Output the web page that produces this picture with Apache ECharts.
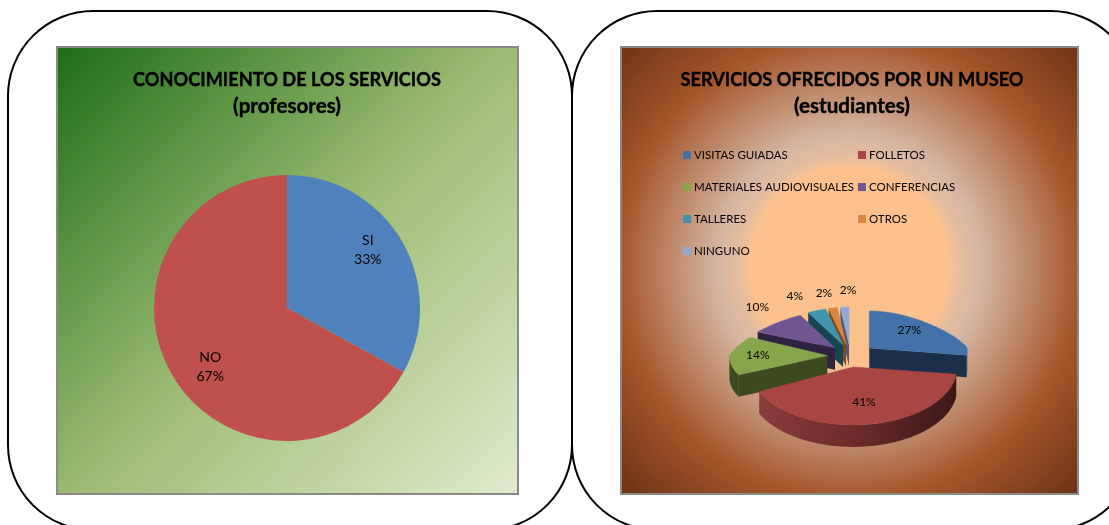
<!DOCTYPE html>
<html><head><meta charset="utf-8">
<style>html,body{margin:0;padding:0;background:#fff}#c{width:1109px;height:525px}</style>
<script src="https://cdn.jsdelivr.net/npm/echarts@6/dist/echarts.min.js"></script>
</head><body><div id="c"></div>
<script>
// ---- data ----
const leftTitle = ['CONOCIMIENTO DE LOS SERVICIOS', '(profesores)'];
const leftCategories = ['SI', 'NO'];
const leftValues = [33, 67];
const rightTitle = ['SERVICIOS OFRECIDOS POR UN MUSEO', '(estudiantes)'];
const rightCategories = ['VISITAS GUIADAS', 'FOLLETOS', 'MATERIALES AUDIOVISUALES', 'CONFERENCIAS', 'TALLERES', 'OTROS', 'NINGUNO'];
const rightValues = [27, 41, 14, 10, 4, 2, 2];

// ---- styles / layout ----
const FONT = 'Lato';
const leftColors = ['#4f81bd', '#c0504d'];
const topColors  = ['#4272a8', '#a94543', '#87a64c', '#6f5591', '#3f95ad', '#dc8540', '#93a9d4'];
const sideColors = ['#1a2f48', '#a94543', '#3d4a20', '#2d2240', '#174653', '#7d4a1c', '#4d5a75'];
const LABEL_FX = [0.68, 0.66, 0.71, 1.37, 1.85, 1.7, 0.23];
const LABEL_FY = [0.74, 0.61, 0, 1.6, 1.42, 1.4, 1.46];
const RX_SCALE = [1, 1.06, 1, 1, 1, 1, 1];
const EX_SCALE = [1, 1, 0.8, 0.71, 0.6, 0.6, 0];
const RY_BACK  = [37, 37, 43, 37, 37, 37, 37];
const RY_FRONT = [58, 58, 45, 58, 58, 58, 58];
const P = {cx: 849, cy: 355.6, rx: 98, depth: 22, ex: 27, ey: 11.5, persp: 0.3};
const total = rightValues.reduce((a, b) => a + b, 0);
const drawOrder = [6, 5, 4, 3, 2, 0, 1];

function rim(idx, ax, ay, a) {
  const s = Math.sin(a), c = Math.cos(a);
  return [ax + P.rx * RX_SCALE[idx] * s * (1 - P.persp * Math.max(0, c)), ay - (c > 0 ? RY_BACK[idx] : RY_FRONT[idx]) * c];
}
function down(p) { return [p[0], p[1] + P.depth]; }

function renderWedge(idx) {
  return function (params, api) {
    const value = api.value(0), before = api.value(1);
    const a0 = before / total * Math.PI * 2, a1 = (before + value) / total * Math.PI * 2;
    const m = (a0 + a1) / 2, sm = Math.sin(m), cm = Math.cos(m);
    const ax = P.cx + P.ex * sm * EX_SCALE[idx], ay = P.cy - P.ey * cm;
    const apex = [ax, ay];
    const arc = [];
    const N = 60;
    for (let i = 0; i <= N; i++) arc.push(rim(idx, ax, ay, a0 + (a1 - a0) * i / N));
    const children = [];
    const side = sideColors[idx];
    const isFront = a => a > Math.PI / 2 && a < Math.PI * 1.5;
    const inLeft = a => a > Math.PI && a < Math.PI * 2;
    const inRight = a => a > 0 && a < Math.PI;
    if (inLeft(a0)) {
      const r = arc[0];
      children.push({type: 'polygon', shape: {points: [apex, r, down(r), down(apex)]}, style: {fill: side}});
    }
    if (inRight(a1)) {
      const r = arc[N];
      children.push({type: 'polygon', shape: {points: [apex, r, down(r), down(apex)]}, style: {fill: side}});
    }
    const wall = [];
    for (let i = 0; i <= N; i++) if (isFront(a0 + (a1 - a0) * i / N)) wall.push(arc[i]);
    if (wall.length > 1) {
      const wallPts = wall.concat(wall.slice().reverse().map(down));
      const wallFill = idx === 1 ? new echarts.graphic.LinearGradient(0, 0, 1, 0, [
        {offset: 0, color: '#8a3d3b'}, {offset: 0.5, color: '#6a2b2a'}, {offset: 1, color: '#3c1817'}
      ]) : side;
      children.push({type: 'polygon', shape: {points: wallPts}, style: {fill: wallFill}});
    }
    children.push({type: 'polygon', shape: {points: [apex].concat(arc)},
      style: {fill: topColors[idx], stroke: topColors[idx], lineWidth: 0.5}});
    const lx = rim(idx, ax, ay, m);
    children.push({type: 'text', z2: 10, style: {
      x: ax + (lx[0] - ax) * LABEL_FX[idx], y: ay + (lx[1] - ay) * LABEL_FY[idx],
      text: value + '%', fill: '#000', font: '12px ' + FONT, align: 'center', verticalAlign: 'middle'
    }});
    return {type: 'group', children};
  };
}

let cumul = [];
rightValues.reduce((acc, v, i) => { cumul[i] = acc; return acc + v; }, 0);

const wedgeSeries = drawOrder.map(i => ({
  type: 'custom',
  name: rightCategories[i],
  coordinateSystem: 'none',
  itemStyle: {color: topColors[i]},
  renderItem: renderWedge(i),
  data: [[rightValues[i], cumul[i]]],
  silent: true,
  z: 3 + drawOrder.indexOf(i)
}));

const legendBase = {
  orient: 'vertical', icon: 'rect', itemWidth: 8, itemHeight: 8, itemGap: 20, selectedMode: false,
  textStyle: {fontFamily: FONT, fontSize: 11.5, color: '#000', padding: [0, 0, 0, -2]}
};
const titleRich = {
  a: {fontFamily: FONT, fontWeight: 'bold', fontSize: 18.2, lineHeight: 26, color: '#000', textBorderColor: '#000', textBorderWidth: 0.4},
  b: {fontFamily: FONT, fontWeight: 'bold', fontSize: 20.6, lineHeight: 26, color: '#000', textBorderColor: '#000', textBorderWidth: 0.4}
};
const titleText = t => '{a|' + t[0] + '}\n{b|' + t[1] + '}';

const chart = echarts.init(document.getElementById('c'), null, {renderer: 'canvas'});
chart.setOption({
  animation: false,
  graphic: {elements: [
    {type: 'rect', z: -5, shape: {x: 57, y: 47, width: 461, height: 447},
      style: {stroke: '#8a8a8a', lineWidth: 2, fill: new echarts.graphic.LinearGradient(0, 0, 1, 1, [
        {offset: 0, color: '#1c6e14'}, {offset: 0.5, color: '#9dbb72'}, {offset: 1, color: '#e0ebce'}
      ])}},
    {type: 'rect', z: -5, shape: {x: 621, y: 47, width: 457, height: 447},
      style: {stroke: '#8a8a8a', lineWidth: 2, fill: new echarts.graphic.RadialGradient(0.5, 0.492, 0.714, [
        {offset: 0, color: '#fcc18d'}, {offset: 0.31, color: '#fcc18d'}, {offset: 0.345, color: '#e6bd9f'},
        {offset: 0.41, color: '#d5b6a3'}, {offset: 0.72, color: '#a5562a'}, {offset: 1, color: '#6c3314'}
      ])}},
    {type: 'rect', z: -4, shape: {x: 8, y: 11, width: 564, height: 519, r: 85}, style: {fill: 'none', stroke: '#000', lineWidth: 2}},
    {type: 'rect', z: -4, shape: {x: 572, y: 11, width: 564, height: 519, r: 85}, style: {fill: 'none', stroke: '#000', lineWidth: 2}}
  ]},
  title: [
    {text: titleText(leftTitle), left: 282, top: 62, textAlign: 'center', textStyle: {rich: titleRich}},
    {text: titleText(rightTitle), left: 847, top: 62, textAlign: 'center', textStyle: {rich: titleRich}}
  ],
  legend: [
    Object.assign({}, legendBase, {left: 678, top: 144, data: [0, 2, 4, 6].map(i => rightCategories[i])}),
    Object.assign({}, legendBase, {left: 853, top: 144, data: [1, 3, 5].map(i => rightCategories[i])})
  ],
  series: [
    {
      type: 'pie', center: [287, 308], radius: 133, startAngle: 90, clockwise: true, percentPrecision: 0,
      silent: true, z: 2, labelLine: {show: false},
      label: {position: 'inner', formatter: '{b}\n{d}%', fontFamily: FONT, fontSize: 14, lineHeight: 19, color: '#000'},
      data: leftCategories.map((n, i) => ({
        name: n, value: leftValues[i], itemStyle: {color: leftColors[i]},
        label: {offset: i === 0 ? [21, -23] : [-17, 24]}
      }))
    }
  ].concat(wedgeSeries)
});
</script></body></html>
